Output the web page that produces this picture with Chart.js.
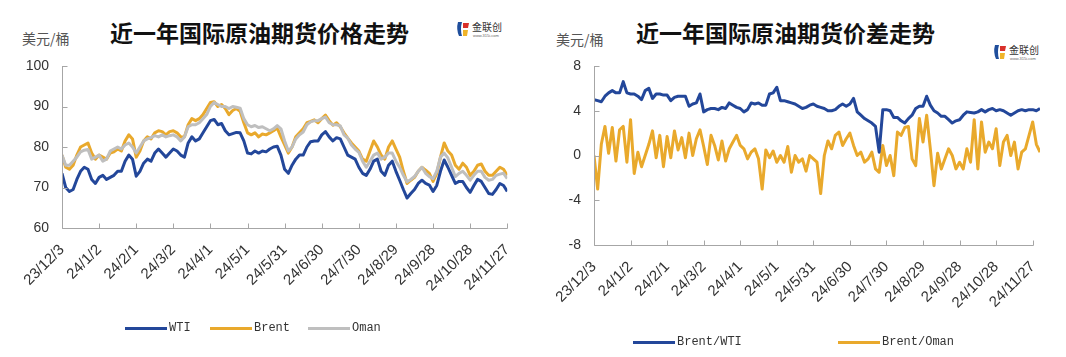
<!DOCTYPE html>
<html><head><meta charset="utf-8">
<script src="https://cdn.jsdelivr.net/npm/chart.js@4.4.1/dist/chart.umd.min.js"></script>
<style>
html,body{margin:0;padding:0;background:#fff;width:1066px;height:357px;overflow:hidden;}
body{position:relative;}
.panel{position:absolute;top:0;width:533px;height:357px;}
canvas{position:absolute;left:0;top:0;}
.title{position:absolute;top:19px;font-family:"Noto Sans CJK SC";font-weight:700;font-size:23px;color:#111;white-space:nowrap;line-height:26px;}
.unit{position:absolute;font-family:"Noto Sans CJK SC";font-size:14px;color:#555;line-height:16px;white-space:nowrap;}
.lg{position:absolute;font-family:"Liberation Mono",monospace;font-size:12px;color:#333;line-height:14px;white-space:nowrap;}
.sw{position:absolute;height:3px;width:42px;}
.logo{position:absolute;}
</style></head>
<body>
<div class="title" style="left:110px;">近一年国际原油期货价格走势</div>
<div class="unit" style="left:22px;top:30px;">美元/桶</div>
<div class="title" style="left:636px;">近一年国际原油期货价差走势</div>
<div class="unit" style="left:556px;top:31px;">美元/桶</div>

<svg class="logo" style="left:455px;top:19px;" width="52" height="20" viewBox="0 0 52 20">
 <path d="M3 3 Q1 10 4 17 L7 17 Q5 10 7 3 Z" fill="#1f4e9c"/>
 <path d="M8 4 L14 4 L13 9 L8 9 Z" fill="#d9302b"/>
 <path d="M8 11 L13 11 L12 17 L8 17 Z" fill="#f0b429"/>
 <text x="17" y="12" font-family="Noto Sans CJK SC" font-size="10" fill="#333">金联创</text>
 <text x="18" y="18" font-family="Liberation Sans" font-size="4" fill="#666">www.315i.com</text>
</svg>
<svg class="logo" style="left:992px;top:42px;" width="52" height="20" viewBox="0 0 52 20">
 <path d="M3 3 Q1 10 4 17 L7 17 Q5 10 7 3 Z" fill="#1f4e9c"/>
 <path d="M8 4 L14 4 L13 9 L8 9 Z" fill="#d9302b"/>
 <path d="M8 11 L13 11 L12 17 L8 17 Z" fill="#f0b429"/>
 <text x="17" y="12" font-family="Noto Sans CJK SC" font-size="10" fill="#333">金联创</text>
 <text x="18" y="18" font-family="Liberation Sans" font-size="4" fill="#666">www.315i.com</text>
</svg>

<div class="panel" style="left:0;"><canvas id="c1" width="533" height="357"></canvas></div>
<div class="panel" style="left:533px;"><canvas id="c2" width="533" height="357"></canvas></div>

<div class="sw" style="left:125px;top:327px;background:#23479a;"></div><div class="lg" style="left:169px;top:321px;">WTI</div>
<div class="sw" style="left:210px;top:327px;background:#e9a92c;"></div><div class="lg" style="left:254px;top:321px;">Brent</div>
<div class="sw" style="left:308px;top:327px;background:#bfbfbf;"></div><div class="lg" style="left:352px;top:321px;">Oman</div>

<div class="sw" style="left:633px;top:341px;background:#23479a;"></div><div class="lg" style="left:677px;top:335px;">Brent/WTI</div>
<div class="sw" style="left:838px;top:341px;background:#e9a92c;"></div><div class="lg" style="left:882px;top:335px;">Brent/Oman</div>

<script>
// Tick labels (every 30 days from 23/12/3)
const tickLabels = ['23/12/3','24/1/2','24/2/1','24/3/2','24/4/1','24/5/1','24/5/31','24/6/30','24/7/30','24/8/29','24/9/28','24/10/28','24/11/27'];
const dayStep = 3; // one sample every 3 calendar days, starting 23/12/3

// Prices, USD/bbl (rows = 30 days)
const wti = [
 73.5,70,69,69.5,72,74,75,74.5,72,71,
 72.5,73,72,72.5,73,74,74,76.5,78,77,
 72.8,74,76,77,76.5,78.5,79.5,78.5,77.5,78.5,
 79.5,79,78,77.5,81,82.5,81.5,82,83.5,85,
 86.5,86.8,85.5,85.8,84,83,83.3,83.6,83.5,81.5,
 78.5,78.3,79,78.5,79,78.8,79.5,80,80.2,78,
 74.5,73.5,75.5,77,78,78,80,81.3,81.5,81.5,
 83,83.8,82.5,81.5,82.3,82,80,78,77.5,77,
 75,73.5,73,74.5,76.5,77,74,73,75.5,76.5,
 74,71.8,69.5,67.4,68.5,69.5,71,71.8,71,70.6,
 69,70.5,74,76.8,75,73,71,71.5,71.5,70,
 68.8,70.5,72,71.5,70,68.5,68.3,69.5,71,70.5,
 69];
const brent = [
 78,75,74.5,75.5,78,80,80.5,81,78.5,77,
 78,77.5,77,78.5,78.8,79.5,79,81.5,83,82,
 77.5,79,81.5,82.5,82,83.5,84,83.8,83,83.8,
 84,83.5,82.5,82.5,85.5,87,86.5,87,88,89.5,
 91,91.2,90,90.5,89.5,88,89,89.5,88.8,86,
 83.5,83,83.5,82.5,83.2,83,83.5,84,84.7,82.5,
 80.5,78.5,80,82.5,83.5,84.5,86,86.3,86.7,86,
 87,87.9,86.5,85.4,86,85,83.5,82.2,81,80,
 79,77,76.5,79,81.5,80,78,77,80,81.5,
 79.5,77.5,74,71,71.8,72.5,74,75,74.3,73.5,
 71.5,73.5,77.5,81,79,78,75.5,74.5,76,75,
 73,74,75.5,75.8,74,73,73,74,75,74.5,
 73];
const oman = [
 78,75.5,75.5,76.5,77.5,78.8,79.2,79.4,77,77.5,
 78,76.5,77,79,79.5,80,79.5,80.5,81,80,
 78.5,80,81.5,82,82.3,82.8,82.5,83,82.5,82.8,
 83,82.5,81.5,82.5,85,85.5,85.5,86,87,88,
 90,91,90.5,90,90,89.5,90,89.8,89.6,87,
 85.5,85,85.3,84.8,85,84.5,84,84.5,85.3,84.5,
 81.5,79,80,82,83,83.7,85.5,86.2,86.5,86.5,
 87,87.4,86,85.5,85.5,85.2,83,82.2,80.5,79.5,
 78.7,76.5,75,76.5,78,78.5,77,77.5,78.5,78.5,
 76.5,75,73,71.4,72,72.7,74,75,73.5,72.7,
 72.2,74,77.5,78.5,77.3,75,72.7,73.5,74,73,
 71.8,73,74,74,72.5,71.8,72,73,73.3,73.5,
 72.2];

// Spreads, USD/bbl (run to 24/12/3)
const brentWti = [
 5.0,4.9,4.8,5.3,5.6,5.8,5.6,5.6,6.6,5.6,
 5.5,5.5,5.3,5.0,5.8,6.0,5.1,5.5,5.5,5.4,
 5.4,4.9,5.2,5.3,5.3,5.3,4.4,4.6,4.7,5.5,
 3.9,4.1,4.2,4.2,4.1,4.3,4.2,4.7,4.5,4.3,
 4.2,3.9,4.1,4.7,4.6,4.7,4.5,4.5,5.5,5.6,
 6.1,4.9,4.9,4.8,4.7,4.6,4.4,4.2,4.3,4.5,
 4.6,4.4,4.3,4.2,4.0,4.0,4.1,4.4,4.6,4.4,
 4.6,5.1,3.9,3.6,3.3,3.1,2.9,2.6,0.3,4.1,
 4.1,4.0,3.4,3.4,3.1,2.9,3.3,3.6,4.2,4.4,
 4.4,5.3,4.5,4.0,3.8,3.5,3.5,3.2,2.9,3.1,
 3.2,3.6,3.9,3.85,3.8,3.9,4.1,3.9,4.1,4.2,
 4.0,4.1,4.0,3.8,3.6,3.8,4.0,4.1,4.0,4.1,
 4.1,4.0,4.2];
const brentOman = [
 0.0,-3.0,1.0,2.6,0.2,2.5,-0.5,2.3,2.6,-0.6,
 3.2,-1.6,0.3,-1.0,0.0,1.0,2.2,-0.2,1.8,-1.0,
 1.7,-0.2,2.2,0.5,1.6,-0.2,2.0,0.0,1.5,2.3,
 0.8,-0.8,1.8,0.9,-0.4,1.3,-0.5,0.6,1.2,1.8,
 0.9,0.6,-0.3,0.3,0.6,-0.3,-3.0,0.5,-0.2,0.4,
 -0.6,0.0,-0.6,0.8,-1.5,0.0,-0.6,-0.3,-1.4,0.0,
 -0.3,-0.6,-3.4,0.0,1.3,0.6,1.8,2.1,0.9,1.5,
 2.0,0.9,0.0,0.3,-0.6,-0.3,0.3,-1.2,-1.5,0.9,
 -0.9,0.0,-1.8,2.1,1.8,2.5,2.6,-0.3,-0.9,3.3,
 1.2,3.6,0.6,-2.7,0.2,-1.2,-0.3,0.6,0.0,-1.2,
 -0.6,-1.2,0.6,-0.6,3.2,-1.2,3.0,0.3,1.2,0.6,
 2.4,-0.9,1.2,1.8,0.0,1.2,-1.2,0.3,0.6,1.8,
 3.0,1.0,0.3];

const BLUE='#23479a', GOLD='#e9a92c', GRAY='#bfbfbf', AXIS='#a6a6a6';
const LAST_TICK = 360;
const toPts = arr => arr.map((v,i)=>({x:i*dayStep, y:v}));

const axisPlugin = {
  id:'axisPlugin',
  afterDraw(chart){
    const {ctx, chartArea:a, scales:{x,y}} = chart;
    ctx.save(); ctx.strokeStyle=AXIS; ctx.lineWidth=1;
    const b = Math.round(a.bottom)+0.5, l = Math.round(a.left)+0.5;
    const xEnd = Math.round(x.getPixelForValue(LAST_TICK))+0.5;
    ctx.beginPath(); ctx.moveTo(l,b); ctx.lineTo(xEnd,b); ctx.stroke();
    ctx.beginPath(); ctx.moveTo(l,Math.round(a.top)); ctx.lineTo(l,b); ctx.stroke();
    x.ticks.forEach(t=>{const p=Math.round(x.getPixelForValue(t.value))+0.5;ctx.beginPath();ctx.moveTo(p,b);ctx.lineTo(p,b-5);ctx.stroke();});
    y.ticks.forEach(t=>{const p=Math.round(y.getPixelForValue(t.value))+0.5;ctx.beginPath();ctx.moveTo(l,p);ctx.lineTo(l+5,p);ctx.stroke();});
    ctx.restore();
  }
};

function ds(label, data, color, order){
  return {label, data:toPts(data), borderColor:color, backgroundColor:color, borderWidth:3,
    pointRadius:0, tension:0, borderJoinStyle:'round', order};
}

function makeChart(id, datasets, xMax, yMin, yMax, yStep, padRight, yWidth, xHeight){
  return new Chart(document.getElementById(id), {
    type:'line',
    data:{datasets},
    options:{
      responsive:false, animation:false, devicePixelRatio:1,
      layout:{padding:{left:0,right:padRight,top:66,bottom:0}},
      plugins:{legend:{display:false},tooltip:{enabled:false}},
      scales:{
        x:{type:'linear',min:0,max:xMax,
          afterFit:s=>{s.height=xHeight;},
          grid:{display:false,drawTicks:false},
          border:{display:false},
          ticks:{stepSize:30,includeBounds:false,autoSkip:false,minRotation:45,maxRotation:45,padding:13,
            color:'#333',font:{family:'Liberation Sans',size:15},
            callback:v=>tickLabels[Math.round(v/30)]}},
        y:{min:yMin,max:yMax,
          afterFit:s=>{s.width=yWidth;},
          grid:{display:false,drawTicks:false},
          border:{display:false},
          ticks:{stepSize:yStep,padding:13,color:'#333',font:{family:'Liberation Sans',size:14}}}
      }
    },
    plugins:[axisPlugin]
  });
}

makeChart('c1',[ds('WTI',wti,BLUE,0),ds('Brent',brent,GOLD,2),ds('Oman',oman,GRAY,1)],360,60,100,10,25,62,129);
makeChart('c2',[ds('Brent/WTI',brentWti,BLUE,0),ds('Brent/Oman',brentOman,GOLD,1)],366,-8,8,4,26,61,112);
</script>
</body></html>
